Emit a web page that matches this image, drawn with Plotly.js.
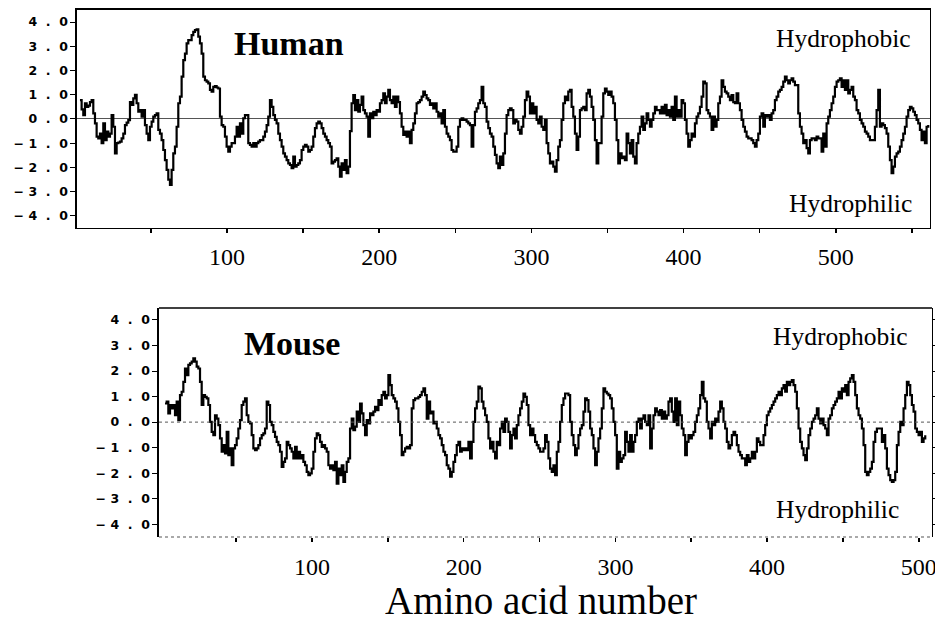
<!DOCTYPE html>
<html>
<head>
<meta charset="utf-8">
<script src="https://cdn.plot.ly/plotly-3.0.1.min.js"></script>
<style>html,body{margin:0;padding:0;background:#fff;}#chart{width:935px;height:623px;}</style>
</head>
<body>
<div id="chart"></div>
<script>
// Hydropathy profiles (one sample every ~1.1 residues)
const humanStart = 3.4;      // residue number of first sample
const humanStep = 1.095;     // residues between samples
const humanValues = [
0.78,0.4,0.16,0.65,0.5,0.55,0.7,0.78,0.23,-0.18,
-0.73,-0.8,-0.6,-1.0,-0.18,-0.87,-0.52,-0.73,-0.6,0.16,
-0.32,-1.42,-1.0,-0.97,-0.93,-0.8,-0.6,-0.25,-0.15,-0.05,
0.7,0.58,0.85,1.0,0.65,0.3,0.37,0.1,0.37,-0.25,
-0.6,-0.87,-0.32,-0.11,0.1,0.16,0.23,-0.45,-0.6,-0.87,
-1.28,-1.7,-2.1,-2.5,-2.72,-2.1,-1.42,-1.14,-0.32,0.65,
0.92,1.75,2.43,2.7,3.12,3.26,3.26,3.46,3.6,3.67,
3.7,3.4,3.12,2.7,1.75,1.6,1.54,1.47,1.2,1.13,
1.33,1.36,1.3,1.26,0.1,-0.25,-0.32,-0.73,-1.14,-1.35,
-1.14,-1.0,-1.0,-0.73,-0.32,-0.73,-0.18,-0.6,0.03,0.16,
0.16,-1.0,-1.07,-1.14,-1.0,-1.14,-1.0,-0.93,-0.87,-0.87,
-0.73,-0.52,-0.25,0.1,0.78,0.5,0.16,-0.04,-0.18,-0.6,
-0.87,-1.14,-1.42,-1.55,-1.7,-1.83,-1.9,-2.03,-1.55,-1.97,
-1.9,-1.83,-1.7,-1.28,-1.14,-1.07,-1.14,-1.35,-1.28,-1.14,
-0.73,-0.38,-0.18,-0.11,
-0.18,-0.38,-0.6,-0.73,-0.87,-1.0,-1.14,-1.83,-1.76,-1.7,
-1.62,-1.97,-2.38,-1.83,-2.1,-1.7,-2.24,-1.97,-0.5,0.65,
0.99,0.37,0.78,0.3,0.58,0.92,0.37,0.23,0.1,-0.73,
0.23,0.03,0.3,0.16,0.37,0.3,0.65,0.78,1.06,0.65,
0.92,1.2,0.78,0.65,0.92,0.5,0.92,0.7,0.23,-0.32,
-0.66,-0.52,-0.73,-0.52,-1.0,-0.45,-0.18,0.23,0.65,0.7,
0.78,0.92,1.13,0.99,0.85,0.78,0.58,0.65,0.44,0.65,
0.3,0.1,0.23,-0.18,0.37,-0.32,-0.6,-0.73,-0.87,-1.28,
-1.35,-1.35,-1.14,-0.32,-0.04,0.03,-0.04,-0.04,-0.11,-0.18,
-0.25,-1.14,-0.25,0.3,0.44,0.65,0.78,1.33,0.65,0.5,
-0.11,-0.38,-0.6,-0.73,-1.14,-1.48,-1.83,-2.03,-1.55,-1.9,
-1.42,-0.6,0.16,0.37,0.44,0.37,-0.18,-0.04,-0.11,-0.45,
-0.6,-0.32,0.1,0.78,1.13,0.92,0.23,0.65,0.23,0.5,
-0.04,-0.18,0.1,-0.32,-0.45,-0.04,-1.0,-1.42,-1.83,-1.76,
-1.97,-2.17,-1.7,-1.14,-0.87,-0.04,0.65,0.92,0.78,1.13,
1.2,0.5,0.1,-0.6,-1.28,-0.73,0.37,0.44,0.5,0.37,
1.06,1.2,0.92,0.5,-0.04,-0.87,-1.83,-1.0,-1.0,0.1,
1.06,1.26,1.13,0.99,1.13,0.92,0.65,-0.04,-0.87,-1.83,
-1.42,-1.62,-1.55,-1.7,-0.6,-1.0,-1.42,-0.87,-1.55,-1.83,
-1.0,-0.6,-0.32,0.1,-0.45,-0.18,0.23,-0.04,-0.32,-0.04,
0.23,0.5,0.37,0.37,0.23,0.5,0.23,0.58,0.16,0.37,
0.1,0.5,-0.04,0.92,0.1,0.37,0.1,0.78,0.65,-0.04,
-0.6,-1.14,-0.87,-0.6,-0.73,-0.18,0.1,0.23,0.5,0.92,
1.54,1.47,0.37,0.23,0.1,-0.45,0.1,-0.32,-0.04,0.65,
0.92,1.6,1.33,1.13,1.06,0.92,0.78,0.99,0.7,0.65,
1.06,0.65,0.37,-0.04,-0.32,-0.52,-0.73,-0.8,-0.8,-0.87,
-1.0,-1.14,-0.87,-0.6,0.1,0.23,-0.32,0.16,0.1,0.16,
-0.04,0.23,0.37,0.78,0.92,1.13,1.2,1.33,1.54,1.75,
1.6,1.47,1.6,1.68,1.54,1.4,1.4,0.23,-0.32,-0.6,
-1.0,-0.87,-1.2,-1.42,-0.87,-0.8,-0.8,-0.87,-0.73,-0.8,
-0.8,-1.35,-0.6,-1.14,-0.18,0.1,0.37,0.65,0.92,1.33,
1.54,1.6,1.68,1.33,1.6,1.2,1.6,1.06,1.2,1.33,
0.92,0.78,0.37,0.23,-0.04,-0.18,-0.32,-0.52,-0.6,-0.73,
-0.87,-0.87,-0.87,-0.32,0.37,1.2,-0.32,-0.18,-0.25,-0.38,
-0.6,-1.14,-1.7,-2.24,-1.97,-1.55,-1.42,-1.35,-1.14,-0.87,
-0.6,-0.32,0.1,0.37,0.5,0.44,0.3,0.16,-0.04,-0.18,
-0.45,-0.87,-0.52,-1.0,-0.32,-0.25
];

const mouseStart = 3.1;
const mouseStep = 1.099;
const mouseValues = [
0.73,0.80,0.34,0.67,0.54,0.67,0.27,0.80,0.08,1.06,
1.19,1.58,2.10,1.84,2.24,2.30,2.37,2.50,2.37,2.17,
2.10,1.58,0.67,1.06,0.99,0.93,0.67,0.01,-0.38,-0.51,
0.27,0.14,-0.12,-0.64,-1.16,-0.90,-1.23,-0.38,-1.29,-1.03,
-1.69,-1.03,-0.90,-0.64,-0.25,0.08,0.67,0.80,0.93,0.27,
0.01,-0.05,-0.51,-1.03,-1.10,-1.03,-0.90,-0.64,-0.51,-0.44,
-0.25,0.80,0.67,0.01,-0.12,-0.38,-0.58,-0.77,-0.90,-1.16,
-1.75,-1.56,-1.42,-0.77,-0.90,-1.03,-1.16,-1.42,-0.97,-1.42,
-1.16,-1.42,-1.29,-1.56,-1.69,-1.95,-2.08,-2.01,-1.82,-1.16,
-0.64,-0.44,-0.51,
-0.77,-0.97,-0.90,-1.03,-1.16,-1.69,-1.82,-1.69,-1.88,-1.56,
-2.41,-1.82,-2.08,-1.69,-2.34,-1.95,-1.56,-1.42,-0.25,0.14,
-0.31,-0.18,0.41,0.01,0.73,0.34,-0.12,-0.51,0.08,-0.05,
0.34,0.27,0.41,0.60,0.47,0.86,0.67,1.06,1.19,0.93,
1.06,1.84,1.45,1.06,0.93,0.80,0.54,0.01,-0.51,-1.29,
-1.16,-1.03,-0.97,-1.03,-0.90,0.54,0.86,0.93,0.93,0.99,
1.06,1.19,1.32,1.06,0.14,0.80,0.34,0.41,-0.05,0.01,
-0.25,-0.51,-0.64,-0.90,-1.16,-1.29,-1.69,-1.82,-2.14,-1.95,
-1.56,-1.29,-0.90,-0.77,-1.16,-1.03,-1.10,-1.03,-1.10,-0.77,
-1.42,-0.77,0.01,0.54,0.80,1.39,1.32,0.80,0.54,0.27,
0.01,-0.64,-1.03,-0.77,-1.16,-1.42,-0.77,-0.90,-0.25,0.01,
-0.38,0.14,0.01,-0.38,-1.03,-0.51,-0.25,-0.64,-0.12,0.27,
0.54,0.80,1.12,0.99,0.67,-0.12,-0.51,-0.25,-0.51,-0.77,
-0.90,-1.03,-1.16,-1.16,-1.03,-0.51,-0.77,-1.42,-1.82,-1.95,
-1.69,-2.08,-1.16,-0.77,0.01,0.67,0.93,1.12,1.12,1.06,
0.01,-0.51,-0.90,-1.29,-1.03,-0.51,-0.25,-0.12,0.41,0.93,
0.86,0.41,-0.25,-0.51,-1.03,-1.69,-1.16,-0.64,-0.25,0.54,
1.32,1.19,1.12,1.06,0.93,0.54,0.01,-0.51,-1.82,-1.16,
-1.56,-1.42,-1.29,-0.38,-0.77,-1.16,-0.51,-1.16,-0.77,-0.51,
0.01,0.14,-0.25,0.14,0.27,0.01,-0.12,0.27,-1.03,-0.25,
0.27,0.54,0.41,0.27,0.47,0.14,0.41,0.14,0.27,0.80,
0.93,0.41,0.01,0.93,-0.12,0.80,0.27,-0.25,-0.51,-1.29,
-0.77,-0.51,-0.64,-0.51,-0.38,0.01,0.27,0.54,1.06,1.58,
0.93,0.80,0.01,-0.25,-0.64,0.01,-0.12,0.14,0.01,0.41,
0.80,0.54,0.01,-0.25,-0.77,-1.03,-0.90,-0.51,-0.38,-0.51,
-0.90,-1.16,-1.29,-1.42,-1.42,-1.69,-1.29,-1.56,-1.42,-1.16,
-1.42,-1.16,-0.64,-0.77,-0.90,-0.90,-0.51,-0.12,0.27,0.41,
0.54,0.67,0.80,0.93,1.06,1.19,1.06,1.32,1.45,1.19,
1.58,1.45,1.58,1.65,1.45,1.19,0.54,-0.25,-0.77,-1.03,
-1.29,-1.49,-1.03,-0.51,-0.25,0.01,0.14,0.27,0.54,0.14,
-0.05,0.14,-0.12,-0.25,-0.51,0.14,0.27,0.54,0.67,0.80,
0.93,1.19,0.93,1.32,1.19,1.45,1.06,1.58,1.71,1.84,
1.58,1.06,0.54,0.27,0.14,-0.25,-0.90,-1.95,-2.08,-1.95,
-1.82,-1.56,-0.77,-0.38,-0.25,-0.25,-0.25,-0.77,-0.51,-1.03,
-1.82,-2.08,-2.27,-2.34,-2.27,-1.95,-0.90,-0.38,0.01,-0.12,
0.54,1.06,1.58,1.45,1.06,0.67,0.41,-0.25,-0.38,-0.51,
-0.38,-0.77,-0.64,-0.51
];

const S = "\u00A0\u00A0";
const yTickVals = [-4,-3,-2,-1,0,1,2,3,4];
const yTickText = ["\u2212\u00A04"+S+"."+S+"0","\u2212\u00A03"+S+"."+S+"0","\u2212\u00A02"+S+"."+S+"0","\u2212\u00A01"+S+"."+S+"0",
  "0"+S+"."+S+"0","1"+S+"."+S+"0","2"+S+"."+S+"0","3"+S+"."+S+"0","4"+S+"."+S+"0"];
const humanXTicks = [50,100,150,200,250,300,350,400,450,500,550];
const humanXText = ["","100","","200","","300","","400","","500",""];
const mouseXTicks = [50,100,150,200,250,300,350,400,450,500];
const mouseXText = ["","100","","200","","300","","400","","500"];

const serif = "Liberation Serif, Times New Roman, serif";
const sans = "DejaVu Sans, Verdana, sans-serif";

const traces = [
  {x0: humanStart, dx: humanStep, y: humanValues, xaxis: 'x', yaxis: 'y', type: 'scatter', mode: 'lines',
   line: {color: '#000', width: 2.2, shape: 'hv'}, hoverinfo: 'skip'},
  {x0: mouseStart, dx: mouseStep, y: mouseValues, xaxis: 'x2', yaxis: 'y2', type: 'scatter', mode: 'lines',
   line: {color: '#000', width: 2.2, shape: 'hv'}, hoverinfo: 'skip'}
];

const xTickFont = {family: serif, size: 24, color: '#000'};
const yTickFont = {family: sans, size: 12.5, color: '#000', weight: 'bold'};

const layout = {
  width: 935, height: 623,
  margin: {l: 0, r: 0, t: 0, b: 0},
  paper_bgcolor: '#fff', plot_bgcolor: '#fff',
  showlegend: false,
  xaxis: {domain: [0.08235, 0.99465], range: [1.45, 561.9], anchor: 'y',
    tickmode: 'array', tickvals: humanXTicks, ticktext: humanXText,
    ticks: 'outside', ticklen: 4, tickwidth: 1.5, tickcolor: '#000',
    showline: true, linecolor: '#000', linewidth: 1.5, mirror: true,
    showgrid: false, zeroline: false, tickfont: xTickFont, ticklabelstandoff: 3,
    ticklabeloverflow: 'allow'},
  yaxis: {domain: [0.63403, 0.98395], range: [-4.5, 4.5], anchor: 'x',
    tickmode: 'array', tickvals: yTickVals, ticktext: yTickText,
    ticks: 'outside', ticklen: 5, tickwidth: 1, tickcolor: '#000',
    showline: true, linecolor: '#000', linewidth: 1.5, mirror: true,
    showgrid: false, zeroline: true, zerolinecolor: '#555', zerolinewidth: 1,
    tickfont: yTickFont, ticklabeloverflow: 'allow'},
  xaxis2: {domain: [0.17005, 0.99679], range: [-0.86, 508.7], anchor: 'y2',
    tickmode: 'array', tickvals: mouseXTicks, ticktext: mouseXText,
    ticks: 'outside', ticklen: 4, tickwidth: 1.5, tickcolor: '#000',
    showline: false, showgrid: false, zeroline: false, tickfont: xTickFont, ticklabelstandoff: 4,
    ticklabeloverflow: 'allow'},
  yaxis2: {domain: [0.13804, 0.50562], range: [-4.5, 4.47], anchor: 'x2',
    tickmode: 'array', tickvals: yTickVals, ticktext: yTickText,
    ticks: 'outside', ticklen: 5, tickwidth: 1, tickcolor: '#000',
    showline: true, linecolor: '#000', linewidth: 1.5, mirror: 'ticks',
    showgrid: false, zeroline: false, tickfont: yTickFont, ticklabeloverflow: 'allow'},
  shapes: [
    {type: 'line', xref: 'x2 domain', yref: 'y2 domain', x0: 0, x1: 1, y0: 1, y1: 1,
     line: {color: '#000', width: 1.5}},
    {type: 'line', xref: 'x2 domain', yref: 'y2 domain', x0: 0, x1: 1, y0: 0, y1: 0,
     line: {color: '#555', width: 1.2, dash: 'dot'}},
    {type: 'line', xref: 'x2 domain', yref: 'y2', x0: 0, x1: 1, y0: 0, y1: 0,
     line: {color: '#555', width: 1, dash: 'dot'}}
  ],
  annotations: [
    {text: '<b>Human</b>', xref: 'paper', yref: 'paper', x: 0.2478, y: 0.93018, xanchor: 'left', yanchor: 'middle',
     showarrow: false, font: {family: serif, size: 34, color: '#000'}},
    {text: '<b>Mouse</b>', xref: 'paper', yref: 'paper', x: 0.2588, y: 0.44864, xanchor: 'left', yanchor: 'middle',
     showarrow: false, font: {family: serif, size: 34, color: '#000'}},
    {text: 'Hydrophobic', xref: 'paper', yref: 'paper', x: 0.97615, y: 0.93884, xanchor: 'right', yanchor: 'middle',
     showarrow: false, font: {family: serif, size: 25.5, color: '#000'}},
    {text: 'Hydrophilic', xref: 'paper', yref: 'paper', x: 0.97754, y: 0.67352, xanchor: 'right', yanchor: 'middle',
     showarrow: false, font: {family: serif, size: 25.5, color: '#000'}},
    {text: 'Hydrophobic', xref: 'paper', yref: 'paper', x: 0.97326, y: 0.46003, xanchor: 'right', yanchor: 'middle',
     showarrow: false, font: {family: serif, size: 25.5, color: '#000'}},
    {text: 'Hydrophilic', xref: 'paper', yref: 'paper', x: 0.96332, y: 0.18283, xanchor: 'right', yanchor: 'middle',
     showarrow: false, font: {family: serif, size: 25.5, color: '#000'}},
    {text: 'Amino acid number', xref: 'paper', yref: 'paper', x: 0.5786, y: 0, xanchor: 'center', yanchor: 'bottom',
     showarrow: false, borderpad: 0, font: {family: serif, size: 39, color: '#000'}}
  ]
};

Plotly.newPlot('chart', traces, layout, {staticPlot: true, displayModeBar: false});
</script>
</body>
</html>
